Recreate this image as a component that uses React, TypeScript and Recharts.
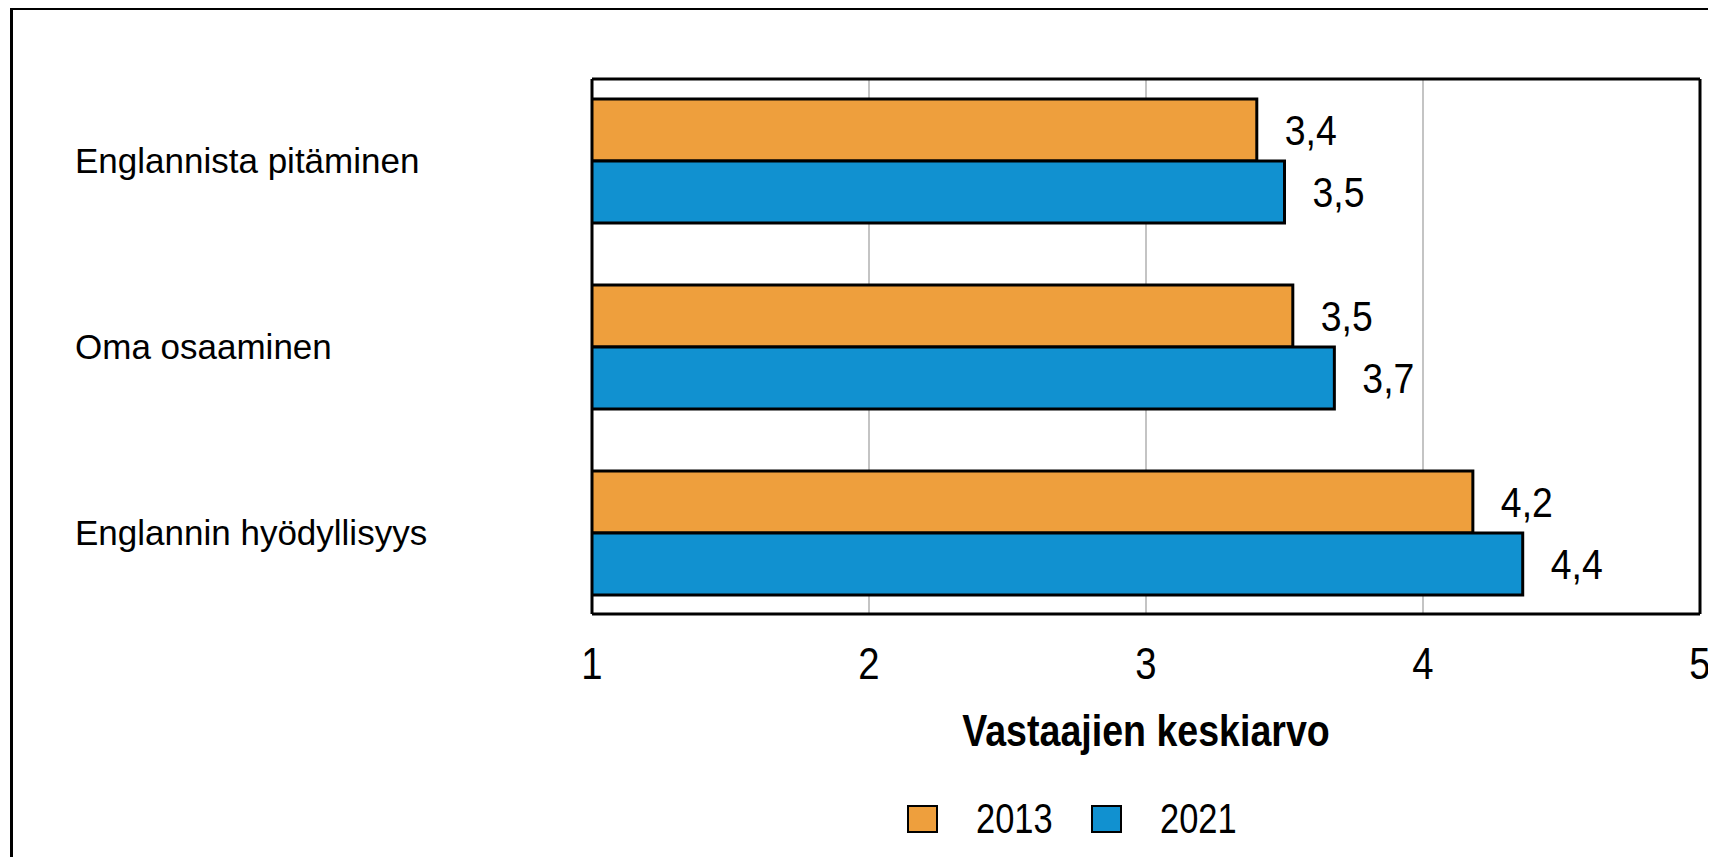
import React from "react";
import { Bar, BarChart, CartesianGrid, LabelList, Legend, XAxis, YAxis } from "recharts";

const ORANGE = "#EE9F3D";
const BLUE = "#1191D0";
const SANS = "'Liberation Sans', Arial, sans-serif";
// no Arial Narrow here, so squeeze Liberation Sans sideways
const TICK_SQUEEZE = 0.87;
const VALUE_SQUEEZE = 0.89;
const TITLE_SQUEEZE = 0.835;
const LEGEND_SQUEEZE = 0.82;

const categories = ["Englannista pitäminen", "Oma osaaminen", "Englannin hyödyllisyys"];
const values2013 = [3.4, 3.53, 4.18];
const values2021 = [3.5, 3.68, 4.36];
const xTicks = [1, 2, 3, 4, 5];

const data = categories.map((name, i) => ({ name, y2013: values2013[i], y2021: values2021[i] }));

const fmt = (v: any) => Number(v).toFixed(1).replace(".", ",");

function CategoryTick(props: any) {
  const { y, payload } = props;
  return (
    <text x={75} y={y + 12} fontFamily={SANS} fontSize={35} fill="#000" textAnchor="start">
      {payload.value}
    </text>
  );
}

function NumberTick(props: any) {
  const { x, y, payload } = props;
  return (
    <text
      transform={`translate(${x},${y}) scale(${TICK_SQUEEZE},1)`}
      textAnchor="middle"
      dy="0.71em"
      fontFamily={SANS}
      fontSize={44}
      fill="#000"
    >
      {payload.value}
    </text>
  );
}

function ValueLabel(props: any) {
  const { x, y, width, height, value } = props;
  return (
    <text
      transform={`translate(${x + width + 28},${y + height / 2}) scale(${VALUE_SQUEEZE},1)`}
      dy="0.355em"
      textAnchor="start"
      fontFamily={SANS}
      fontSize={42}
      fill="#000"
    >
      {fmt(value)}
    </text>
  );
}

function AxisTitle(props: any) {
  const vb = props.viewBox;
  return (
    <text
      transform={`translate(${vb.x + vb.width / 2},${vb.y + 132}) scale(${TITLE_SQUEEZE},1)`}
      textAnchor="middle"
      fontFamily={SANS}
      fontWeight="bold"
      fontSize={45}
      fill="#000"
    >
      Vastaajien keskiarvo
    </text>
  );
}

function LegendContent(props: any) {
  const items = props.payload || [];
  return (
    <div style={{ display: "flex", alignItems: "center", whiteSpace: "nowrap" }}>
      {items.map((it: any, i: number) => (
        <div key={i} style={{ display: "flex", alignItems: "center", marginRight: i === 0 ? 38 : 0 }}>
          <span
            style={{
              display: "inline-block",
              width: 31,
              height: 28,
              boxSizing: "border-box",
              border: "2.5px solid #000",
              background: it.color,
              marginRight: 38,
            }}
          />
          <span style={{ display: "inline-block", width: 77, height: 28, position: "relative" }}>
            <span
              style={{
                position: "absolute",
                left: 0,
                top: -10,
                fontFamily: SANS,
                fontSize: 42,
                lineHeight: "48px",
                color: "#000",
                transform: `scaleX(${LEGEND_SQUEEZE})`,
                transformOrigin: "left center",
              }}
            >
              {it.value}
            </span>
          </span>
        </div>
      ))}
    </div>
  );
}

export default function App() {
  return (
    <div style={{ position: "relative", width: 1716, height: 865, margin: -8, background: "#fff", overflow: "hidden" }}>
      <div
        style={{
          position: "absolute",
          left: 10,
          top: 7,
          width: 1720,
          height: 870,
          borderLeft: "3px solid #000",
          borderTop: "3px solid #000",
        }}
      />
      <div style={{ position: "absolute", left: 0, top: 0 }}>
        <BarChart
          width={1716}
          height={865}
          data={data}
          layout="vertical"
          margin={{ top: 79, right: 16, left: 0, bottom: 101 }}
          barSize={62}
          barGap={0}
        >
          <CartesianGrid horizontal={false} stroke="#C4C4C4" strokeWidth={2} />
          <CartesianGrid
            stroke="#000"
            strokeWidth={3}
            horizontalCoordinatesGenerator={({ offset }: any) => [offset.top, offset.top + offset.height]}
            verticalCoordinatesGenerator={({ offset }: any) => [offset.left, offset.left + offset.width]}
          />
          <XAxis
            type="number"
            domain={[1, 5]}
            ticks={xTicks}
            allowDataOverflow
            height={150}
            axisLine={false}
            tickLine={false}
            tickSize={0}
            tickMargin={34}
            tick={<NumberTick />}
            label={<AxisTitle />}
          />
          <YAxis
            type="category"
            dataKey="name"
            width={592}
            axisLine={false}
            tickLine={false}
            padding={{ top: -11, bottom: -12 }}
            tick={<CategoryTick />}
          />
          <Legend
            verticalAlign="bottom"
            content={<LegendContent />}
            wrapperStyle={{ position: "absolute", left: 907, top: 805, height: 0, width: "auto" }}
          />
          <Bar dataKey="y2013" name="2013" fill={ORANGE} stroke="#000" strokeWidth={3} isAnimationActive={false}>
            <LabelList dataKey="y2013" content={<ValueLabel />} />
          </Bar>
          <Bar dataKey="y2021" name="2021" fill={BLUE} stroke="#000" strokeWidth={3} isAnimationActive={false}>
            <LabelList dataKey="y2021" content={<ValueLabel />} />
          </Bar>
        </BarChart>
      </div>
    </div>
  );
}
